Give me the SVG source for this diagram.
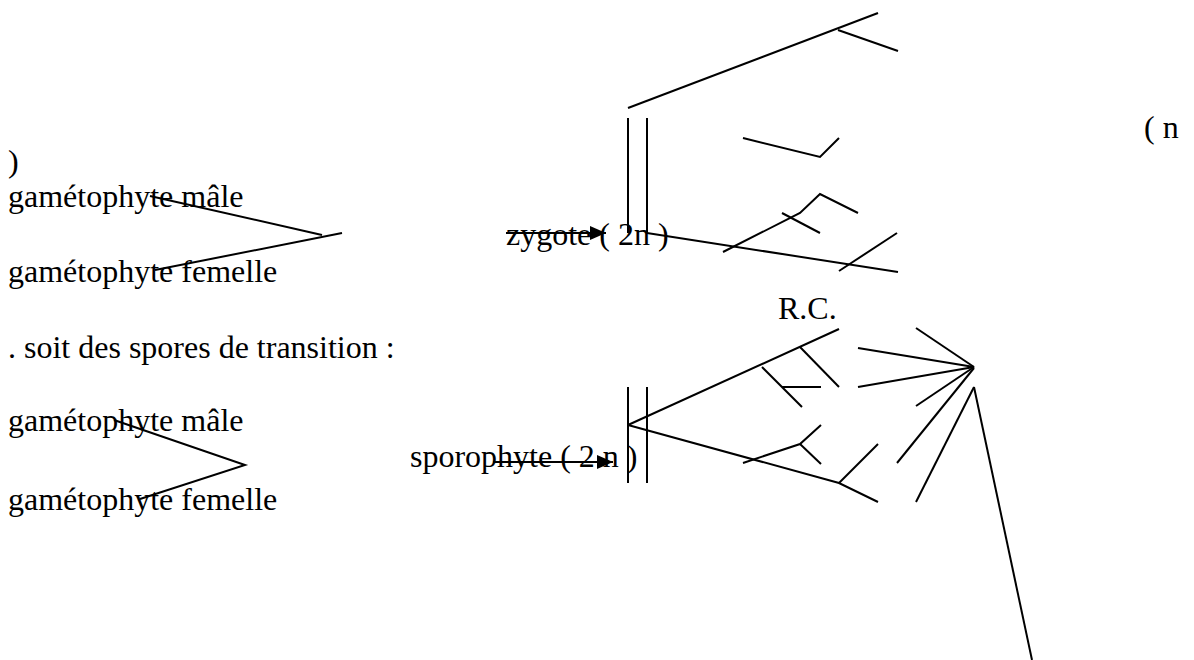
<svg xmlns="http://www.w3.org/2000/svg" width="1194" height="660" viewBox="0 0 1194 660">
<style>
text{font-family:"Liberation Serif","Times New Roman",serif;font-size:32px;fill:#000}
.ln{stroke:#000;stroke-width:2;fill:none;stroke-linecap:butt}
</style>
<defs>
<marker id="ah" viewBox="0 0 10 10" refX="10" refY="5" markerWidth="16" markerHeight="14" markerUnits="userSpaceOnUse" orient="auto" preserveAspectRatio="none"><path d="M0,0 L10,5 L0,10 z" fill="#000"/></marker>
</defs>
<rect width="1194" height="660" fill="#fff"/>
<g id="n-paren-open"><text x="1144" y="138">( n</text></g>
<g id="n-paren-close"><text x="8" y="172">)</text></g>
<g id="n-male1"><text x="8" y="207">gamétophyte mâle</text></g>
<g id="n-femelle1"><text x="8" y="282">gamétophyte femelle</text></g>
<g id="n-zygote"><text x="506" y="245">zygote ( 2n )</text></g>
<g id="n-rc"><text x="778" y="319">R.C.</text></g>
<g id="n-soit"><text x="8" y="358">. soit des spores de transition :</text></g>
<g id="n-male2"><text x="8" y="431">gamétophyte mâle</text></g>
<g id="n-sporophyte"><text x="410" y="467">sporophyte ( 2 n )</text></g>
<g id="n-femelle2"><text x="8" y="510">gamétophyte femelle</text></g>
<g id="connectors">
<line class="ln" x1="150" y1="196" x2="322" y2="235"/>
<line class="ln" x1="342" y1="233" x2="155" y2="270"/>
<line class="ln" x1="506" y1="233" x2="606" y2="233" marker-end="url(#ah)"/>
<line class="ln" x1="628" y1="118" x2="628" y2="233"/>
<line class="ln" x1="647" y1="118" x2="647" y2="233"/>
<line class="ln" x1="628" y1="108" x2="878" y2="13"/>
<line class="ln" x1="838" y1="30" x2="898" y2="51"/>
<polyline class="ln" points="743,138 820,157 839,138"/>
<line class="ln" x1="647" y1="233" x2="898" y2="272"/>
<polyline class="ln" points="723,252 800,213 820,194 858,213"/>
<line class="ln" x1="782" y1="213" x2="820" y2="233"/>
<line class="ln" x1="839" y1="271" x2="897" y2="233"/>
<polyline class="ln" points="114,420 245,465 140,499"/>
<line class="ln" x1="493" y1="462" x2="613" y2="462" marker-end="url(#ah)"/>
<line class="ln" x1="628" y1="387" x2="628" y2="483"/>
<line class="ln" x1="647" y1="387" x2="647" y2="483"/>
<line class="ln" x1="628" y1="425" x2="839" y2="329"/>
<line class="ln" x1="800" y1="347" x2="839" y2="387"/>
<line class="ln" x1="762" y1="367" x2="802" y2="407"/>
<line class="ln" x1="782" y1="387" x2="821" y2="387"/>
<polyline class="ln" points="628,425 839,483 878,502"/>
<polyline class="ln" points="743,463 800,444 821,425"/>
<line class="ln" x1="800" y1="444" x2="821" y2="464"/>
<line class="ln" x1="839" y1="483" x2="878" y2="444"/>
<line class="ln" x1="858" y1="348" x2="974" y2="367"/>
<line class="ln" x1="858" y1="387" x2="974" y2="367"/>
<line class="ln" x1="916" y1="328" x2="974" y2="367"/>
<line class="ln" x1="916" y1="406" x2="974" y2="367"/>
<line class="ln" x1="897" y1="463" x2="974" y2="368"/>
<line class="ln" x1="916" y1="502" x2="974" y2="387"/>
<line class="ln" x1="974" y1="387" x2="1032" y2="660"/>
</g>
</svg>
